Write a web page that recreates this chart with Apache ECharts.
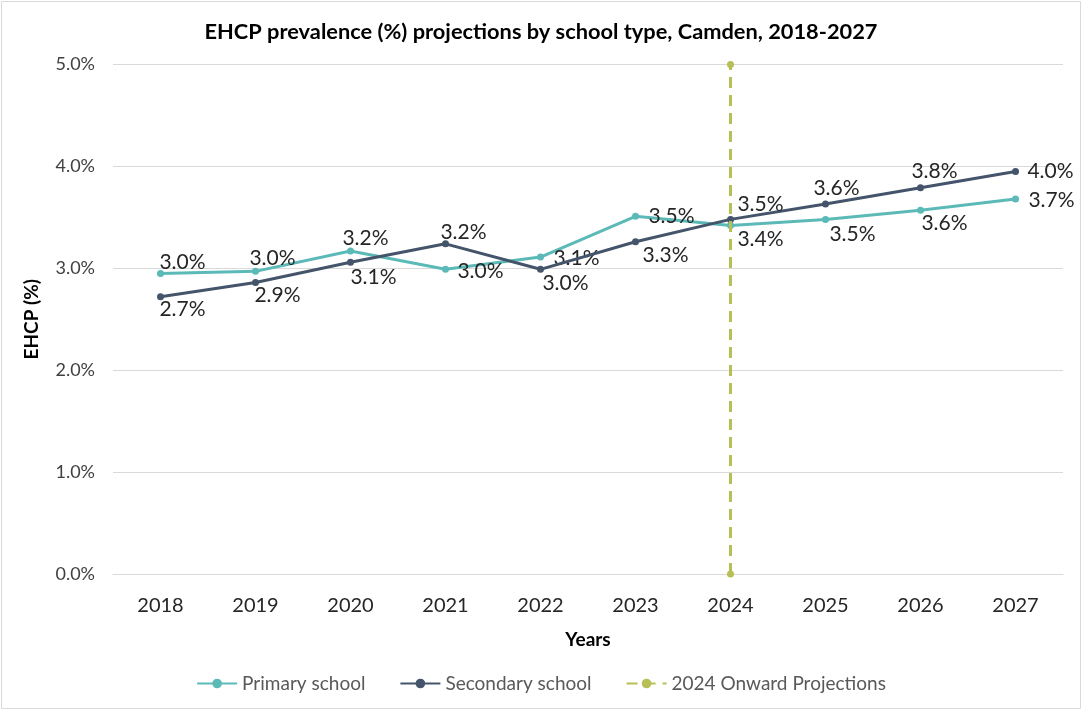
<!DOCTYPE html>
<html>
<head>
<meta charset="utf-8">
<script src="https://cdn.jsdelivr.net/npm/echarts@6/dist/echarts.min.js"></script>
<style>
html,body{margin:0;padding:0;background:#fff;}
#chart{width:1082px;height:710px;}
</style>
</head>
<body>
<div id="chart"></div>
<script>
// ---- data ----
const years = ['2018','2019','2020','2021','2022','2023','2024','2025','2026','2027'];
const primaryValues   = [2.95, 2.97, 3.17, 2.99, 3.11, 3.51, 3.42, 3.48, 3.57, 3.68];
const secondaryValues = [2.72, 2.86, 3.06, 3.24, 2.99, 3.26, 3.48, 3.63, 3.79, 3.95];
const projectionYears  = ['2024', '2024'];
const projectionValues = [0, 5];
const yTicks = [0, 1, 2, 3, 4, 5];

// ---- label offsets (style) ----
const primaryLabelOffsets = [[22,-11],[17,-13],[15,-13],[35,2],[36,1],[36,0],[30,14],[27,15],[24,13],[36,1]];
const secondaryLabelOffsets = [[22,12],[22,13],[23,15],[18,-12],[25,14],[30,13],[30,-15],[11,-16],[14,-17],[35,0]];

const FONT = 'Lato';
const C_PRIMARY = '#5bbab7';
const C_SECONDARY = '#44546a';
const C_PROJ = '#b7bf55';

function items(values, offsets) {
  return values.map((v, i) => ({ value: v, label: { offset: offsets[i] } }));
}

const labelBase = {
  show: true,
  position: 'inside',
  align: 'center',
  verticalAlign: 'middle',
  fontFamily: FONT,
  fontSize: 21,
  color: '#262626',
  formatter: p => p.value.toFixed(1) + '%'
};

const chart = echarts.init(document.getElementById('chart'));
chart.setOption({
  animation: false,
  backgroundColor: '#fff',
  graphic: [{
    type: 'rect', shape: { x: 1.5, y: 1.5, width: 1079, height: 707 },
    style: { fill: 'none', stroke: '#d9d9d9', lineWidth: 1 }, silent: true, z: -1
  }],
  title: {
    text: 'EHCP prevalence (%) projections by school type, Camden, 2018-2027',
    left: 'center', top: 16,
    textStyle: { fontFamily: FONT, fontSize: 21.8, fontWeight: 'bold', color: '#000' }
  },
  legend: {
    bottom: 12, left: 'center',
    itemWidth: 40, itemHeight: 12, itemGap: 34,
    textStyle: { fontFamily: FONT, fontSize: 19, color: '#595959' },
    data: ['Primary school', 'Secondary school', '2024 Onward Projections']
  },
  grid: { left: 113, right: 19, top: 64.5, bottom: 136, containLabel: false },
  xAxis: {
    type: 'category', data: years, boundaryGap: true,
    name: 'Years', nameLocation: 'middle', nameGap: 56,
    nameTextStyle: { fontFamily: FONT, fontSize: 19, fontWeight: 'bold', color: '#000' },
    axisLine: { show: true, lineStyle: { color: '#d9d9d9', width: 1 } },
    axisTick: { show: false },
    axisLabel: { fontFamily: FONT, fontSize: 20, color: '#262626', margin: 22 }
  },
  yAxis: {
    type: 'value', min: yTicks[0], max: yTicks[yTicks.length - 1], interval: 1,
    name: 'EHCP (%)', nameLocation: 'middle', nameGap: 72, nameRotate: 90,
    nameTextStyle: { fontFamily: FONT, fontSize: 19, fontWeight: 'bold', color: '#000' },
    axisLine: { show: false }, axisTick: { show: false },
    splitLine: { lineStyle: { color: '#d9d9d9', width: 1 } },
    axisLabel: { fontFamily: FONT, fontSize: 18, color: '#404040', margin: 18,
      formatter: v => v.toFixed(1) + '%' }
  },
  series: [
    {
      name: 'Primary school', type: 'line', data: items(primaryValues, primaryLabelOffsets),
      symbol: 'circle', symbolSize: 7, z: 3,
      lineStyle: { color: C_PRIMARY, width: 3 }, itemStyle: { color: C_PRIMARY },
      label: labelBase, emphasis: { disabled: true }
    },
    {
      name: 'Secondary school', type: 'line', data: items(secondaryValues, secondaryLabelOffsets),
      symbol: 'circle', symbolSize: 7, z: 4,
      lineStyle: { color: C_SECONDARY, width: 3 }, itemStyle: { color: C_SECONDARY },
      label: labelBase, emphasis: { disabled: true }
    },
    {
      name: '2024 Onward Projections', type: 'line',
      data: projectionYears.map((y, i) => [y, projectionValues[i]]),
      symbol: 'circle', symbolSize: 7, z: 5,
      lineStyle: { color: C_PROJ, width: 3, type: [11, 7] }, itemStyle: { color: C_PROJ },
      label: { show: false }, emphasis: { disabled: true }
    }
  ]
});
</script>
</body>
</html>
